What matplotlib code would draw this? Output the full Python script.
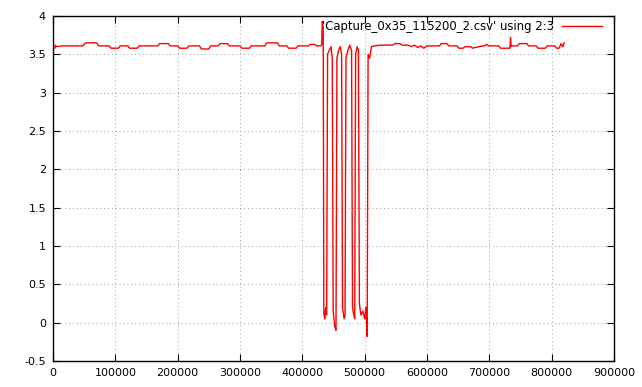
import matplotlib
matplotlib.use('Agg')
import matplotlib.pyplot as plt
from matplotlib.ticker import MultipleLocator, FuncFormatter

# trace samples (column 2 vs column 3)
tempo = [
    0, 3000, 4000, 6000, 15000, 48000, 52000, 70000, 73000, 90000, 93000,
    105000, 108000, 120000, 123000, 135000, 138000, 168000, 171000, 185000,
    188000, 200000, 203000, 215000, 218000, 235000, 238000, 250000, 253000,
    265000, 268000, 280000, 283000, 300000, 303000, 315000, 318000, 340000,
    343000, 360000, 363000, 375000, 378000, 390000, 393000, 410000, 413000,
    420000, 423000, 429000,
    431000, 432000, 433500, 434500, 436000, 437500, 439000,
    440500, 443000, 446000, 448000, 449500, 452000, 454000,
    455500, 458000, 461000, 463000, 464500, 467000, 468500,
    470000, 473000, 476000, 479000, 480500, 482000, 484000,
    485500, 488000, 490000, 491500, 494000, 497000, 500000, 502000, 504000,
    505500, 508000, 511000,
    515000, 525000, 528000, 545000, 548000, 557000, 560000, 570000, 575000,
    580000, 585000, 590000, 595000, 600000, 620000, 623000, 632000, 635000,
    648000, 651000, 658000, 661000, 670000, 673000, 689000, 692000, 696000,
    699000, 715000, 718000, 733000, 734000, 735000, 737000, 745000, 748000,
    760000, 763000, 775000, 778000, 790000, 793000, 805000, 808000, 812000,
    815000, 818000, 820000,
]
tensao = [
    3.60, 3.58, 3.62, 3.60, 3.61, 3.61, 3.65, 3.65, 3.61, 3.61, 3.58,
    3.58, 3.61, 3.61, 3.58, 3.58, 3.61, 3.61, 3.64, 3.64,
    3.61, 3.61, 3.58, 3.58, 3.61, 3.61, 3.57, 3.57, 3.61,
    3.61, 3.64, 3.64, 3.61, 3.61, 3.58, 3.58, 3.61, 3.61,
    3.65, 3.65, 3.61, 3.61, 3.58, 3.58, 3.61, 3.61, 3.63,
    3.63, 3.61, 3.61,
    3.62, 3.93, 3.85, 0.12, 0.05, 0.20, 0.10,
    3.50, 3.55, 3.60, 3.45, 0.15, -0.05, -0.10,
    3.45, 3.55, 3.60, 3.50, 0.20, 0.05, 0.10,
    3.45, 3.55, 3.62, 3.55, 0.20, 0.12, 0.05,
    3.50, 3.60, 3.55, 0.25, 0.10, 0.15, 0.05, 0.20, -0.18,
    3.50, 3.45, 3.60,
    3.61, 3.62, 3.62, 3.62, 3.64, 3.64, 3.62, 3.62, 3.60,
    3.62, 3.59, 3.61, 3.58, 3.61, 3.61, 3.64, 3.64, 3.61,
    3.61, 3.58, 3.58, 3.60, 3.60, 3.58, 3.61, 3.61, 3.63,
    3.61, 3.61, 3.58, 3.58, 3.72, 3.60, 3.61, 3.61, 3.64,
    3.64, 3.61, 3.61, 3.58, 3.58, 3.61, 3.61, 3.58, 3.58,
    3.64, 3.60, 3.65,
]
rotulo = "'Capture_0x35_115200_2.csv' using 2:3"


def formatar_numero(valor, pos):
    return f"{valor:g}"


plt.rcParams['font.family'] = 'DejaVu Sans'
plt.rcParams['font.size'] = 8

fig = plt.figure(figsize=(6.42, 3.87), dpi=100)
ax = fig.add_axes([53 / 642, 1 - 361 / 387, (614 - 53) / 642, (361 - 16) / 387])

ax.plot(tempo, tensao, color='#ff0000', linewidth=1.0, label=rotulo)

ax.set_xlim(0, 900000)
ax.set_ylim(-0.5, 4)
ax.xaxis.set_major_locator(MultipleLocator(100000))
ax.yaxis.set_major_locator(MultipleLocator(0.5))
ax.xaxis.set_major_formatter(FuncFormatter(formatar_numero))
ax.yaxis.set_major_formatter(FuncFormatter(formatar_numero))

ax.tick_params(direction='in', length=5, width=0.8, top=True, right=True,
               labelsize=8, pad=5, colors='black')
ax.grid(True, color='#a0a0a0', linestyle=(0, (1, 3)), linewidth=0.7)
for lado in ax.spines.values():
    lado.set_linewidth(1.0)
    lado.set_color('black')

ax.legend(loc='upper right', frameon=False, markerfirst=False, fontsize=8.4,
          handlelength=3.4, handletextpad=0.75, borderaxespad=0,
          borderpad=0, bbox_to_anchor=(602 / 642, 1 - 20 / 387),
          bbox_transform=fig.transFigure)

fig.savefig('out.png', dpi=100)
plt.close(fig)
